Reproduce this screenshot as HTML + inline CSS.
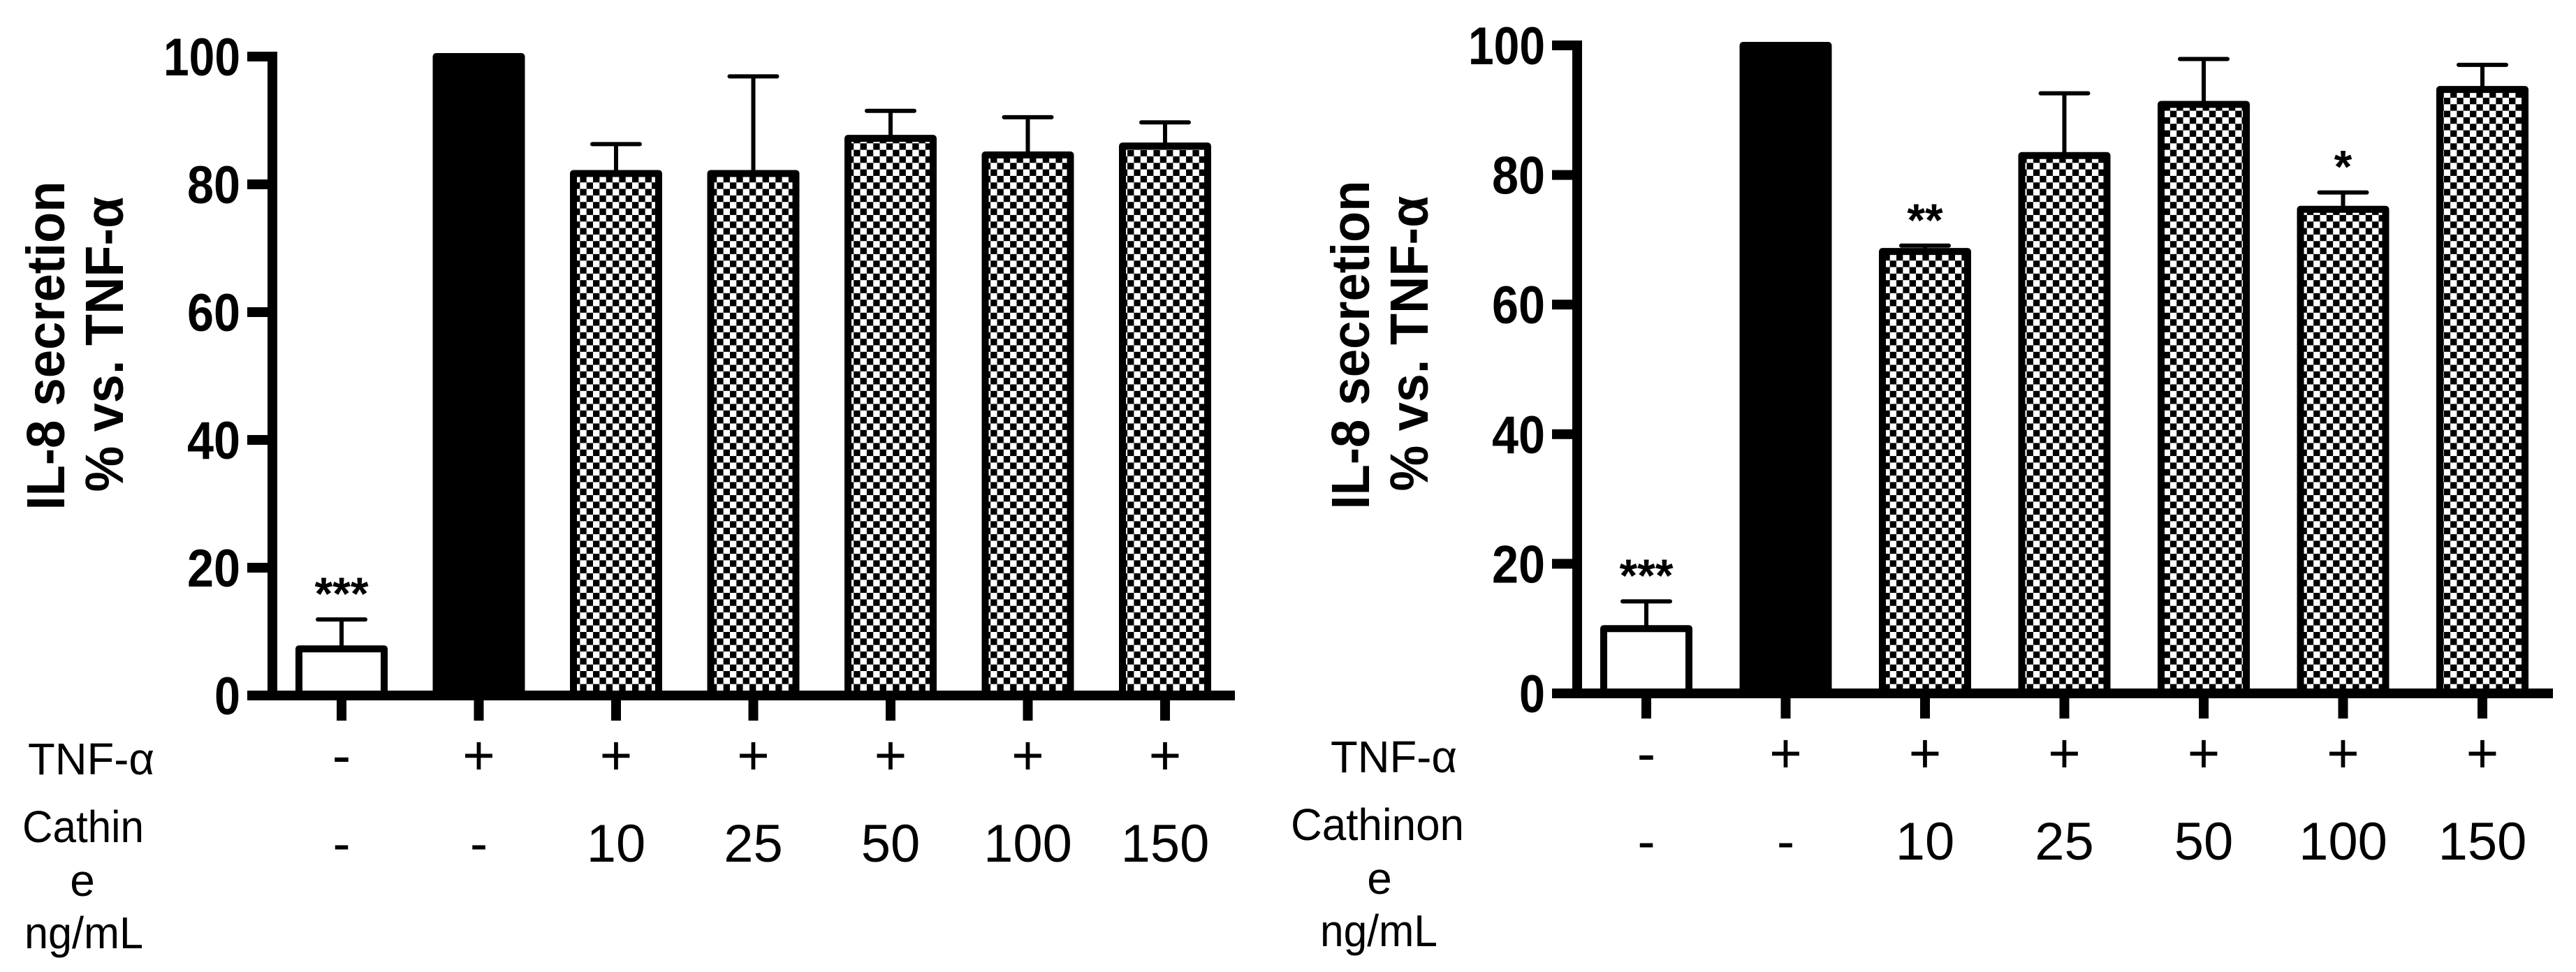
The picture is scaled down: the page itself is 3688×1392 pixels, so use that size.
<!DOCTYPE html>
<html><head><meta charset="utf-8"><style>
html,body{margin:0;padding:0;background:#fff;}
svg{display:block;}
text{font-family:"Liberation Sans",sans-serif;fill:#000;}
</style></head><body>
<svg id="fig" width="3688" height="1392" viewBox="0 0 3688 1392" xmlns="http://www.w3.org/2000/svg">
<defs>
<pattern id="chk" patternUnits="userSpaceOnUse" width="18.66" height="18.66">
<rect width="18.66" height="18.66" fill="#fff"/>
<rect x="0" y="0" width="9.33" height="9.33" fill="#000"/>
<rect x="9.33" y="9.33" width="9.33" height="9.33" fill="#000"/>
</pattern>
</defs>
</svg>
<script>
const categories = ["ctrl","TNF","10","25","50","100","150"];
const tnfRow = ["-","+","+","+","+","+","+"];
const doseRow = ["-","-","10","25","50","100","150"];
const leftValues = [7.3, 100, 81.7, 81.7, 87.2, 84.6, 86.0];
const leftErrors = [4.6, 0, 4.6, 15.2, 4.3, 5.9, 3.7];
const leftStars = ["***","","","","","",""];
const rightValues = [10.0, 100, 68.2, 83.0, 90.9, 74.7, 93.2];
const rightErrors = [4.2, 0, 0.9, 9.6, 7.0, 2.6, 3.8];
const rightStars = ["***","","**","","","*",""];
const yTicks = [0,20,40,60,80,100];
const fills = ["#fff","#000","url(#chk)","url(#chk)","url(#chk)","url(#chk)","url(#chk)"];

const NS="http://www.w3.org/2000/svg";
const svg=document.getElementById('fig');
function mk(tag,attrs,parent){const e=document.createElementNS(NS,tag);for(const k in attrs)e.setAttribute(k,attrs[k]);(parent||svg).appendChild(e);return e;}

function panel(cfg){
  const g=mk('g',{});
  
  
  const ys=v=>cfg.y0-(cfg.y0-cfg.y100)*v/100;
  const xs=i=>cfg.c0+i*cfg.step;
  cfg.values.forEach((v,i)=>{
    const r=mk('rect',{x:xs(i)-61,y:ys(v),width:122,height:cfg.y0-ys(v),fill:fills[i],stroke:'#000','stroke-width':10,'stroke-linejoin':'round'},g);
    
    
    const e=cfg.errors[i];
    if(e>0){
      const top=ys(v+e);
      const eb=mk('path',{d:`M${xs(i)} ${ys(v)} V${top} M${xs(i)-34} ${top} H${xs(i)+34}`,stroke:'#000','stroke-width':6,fill:'none','stroke-linecap':'round'},g);
      
      
    }
    if(cfg.stars[i]){
      const st=mk('text',{x:xs(i),y:ys(v+e)-14,'font-size':66,'font-weight':'bold','text-anchor':'middle'},g);
      st.textContent=cfg.stars[i];
      
      
    }
  });
  const ya=mk('rect',{x:cfg.ax-7,y:cfg.y100-7,width:14,height:cfg.y0+7-(cfg.y100-7)},g);
  
  
  const xa=mk('rect',{x:cfg.ax-36,y:cfg.y0-7,width:cfg.xend-(cfg.ax-36),height:14},g);
  
  
  yTicks.forEach(t=>{
    mk('rect',{x:cfg.ax-36,y:ys(t)-7,width:36,height:14},g);
    const tl=mk('text',{x:cfg.ax-46,y:ys(t)+27,'font-size':76,'font-weight':'bold','text-anchor':'end',textLength:(t>=100?110:(t===0?37:76)),lengthAdjust:'spacingAndGlyphs'},g);
    tl.textContent=t;
    
    
  });
  categories.forEach((c,i)=>{
    mk('rect',{x:xs(i)-7,y:cfg.y0,width:14,height:36},g);
    const a=mk('text',{x:xs(i),y:cfg.y0+113,'font-size':80,'text-anchor':'middle'},g);
    a.textContent=tnfRow[i];
    
    
    const b=mk('text',{x:xs(i),y:cfg.y0+238,'font-size':76,'text-anchor':'middle'},g);
    b.textContent=doseRow[i];
    
    
  });
  const t1=mk('text',{transform:`translate(${cfg.ax-298},${cfg.titleCy}) rotate(-90)`,'font-size':77,'font-weight':'bold','text-anchor':'middle',textLength:471,lengthAdjust:'spacingAndGlyphs'},g);
  t1.textContent='IL-8 secretion';
  
  
  const t2=mk('text',{transform:`translate(${cfg.ax-214},${cfg.titleCy-2}) rotate(-90)`,'font-size':77,'font-weight':'bold','text-anchor':'middle',textLength:423,lengthAdjust:'spacingAndGlyphs'},g);
  t2.textContent='% vs. TNF-α';
  
  
  const L=cfg.lab;
  const r1=mk('text',{x:L.x1,y:cfg.y0+113,'font-size':64,textLength:181,lengthAdjust:'spacingAndGlyphs'},g);
  r1.textContent='TNF-α';
  
  
  const r2=mk('text',{x:L.x2,y:cfg.y0+210,'font-size':64,textLength:L.w2,lengthAdjust:'spacingAndGlyphs'},g);
  r2.textContent=L.word;
  
  
  const r3=mk('text',{x:L.ex,y:cfg.y0+287,'font-size':64,'text-anchor':'middle'},g);
  r3.textContent='e';
  
  
  const r4=mk('text',{x:L.x4,y:cfg.y0+362,'font-size':64,textLength:L.w4,lengthAdjust:'spacingAndGlyphs'},g);
  r4.textContent='ng/mL';
  
  
}
panel({name:'left-chart',values:leftValues,errors:leftErrors,stars:leftStars,ax:390,y0:996,y100:81,c0:489,step:196.5,xend:1768,titleCy:495,
  lab:{x1:40,x2:32,w2:174,word:'Cathin',ex:118,x4:35,w4:170}});
panel({name:'right-chart',values:rightValues,errors:rightErrors,stars:rightStars,ax:2258,y0:993,y100:65,c0:2357,step:199.5,xend:3655,titleCy:494,
  lab:{x1:1905,x2:1848,w2:248,word:'Cathinon',ex:1975,x4:1890,w4:168}});
</script>
</body></html>
